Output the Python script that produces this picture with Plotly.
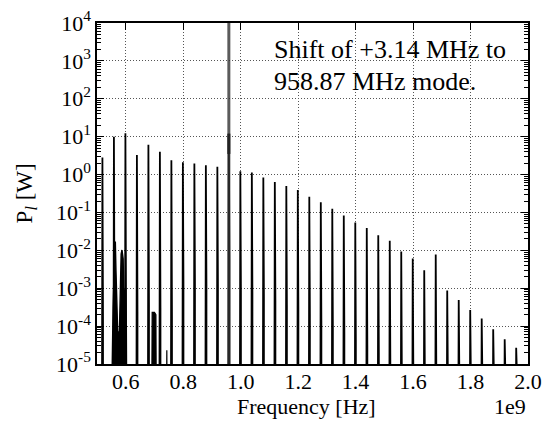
import plotly.graph_objects as go

# ---------------- data ----------------
# main resonance peaks: frequency [MHz], peak power [W], power at which the peak base widens [W]
peak_freq_mhz = [518.87, 558.87, 598.87, 638.87, 678.87, 718.87, 758.87, 798.87, 838.87,
                 878.87, 918.87, 958.87, 998.87, 1038.87, 1078.87, 1118.87, 1158.87,
                 1198.87, 1238.87, 1278.87, 1318.87, 1358.87, 1398.87, 1438.87, 1478.87,
                 1518.87, 1558.87, 1598.87, 1638.87, 1678.87, 1718.87, 1758.87, 1798.87,
                 1838.87, 1878.87, 1918.87, 1958.87]
peak_power_w = [2.8, 10.0, 12.3, 3.3, 6.1, 4.0, 2.4, 2.1, 1.95,
                1.77, 1.6, 12.0, 1.23, 1.13, 0.83, 0.64, 0.50,
                0.39, 0.26, 0.186, 0.126, 0.083, 0.054, 0.039, 0.025,
                0.0178, 0.0093, 0.0061, 0.0030, 0.0078, 0.00087, 0.00049, 0.000266,
                0.000158, 0.000083, 0.000045, 0.000027]
skirt_power_w = [1.6e-4, 3.0e-4, 1.0e-3, 2.4e-4, 3.8e-4, 3.0e-4, 1.8e-4, 1.5e-3, 1.35e-3,
                 1.26e-3, 1.1e-3, 5.9e-3, 8.7e-4, 7.9e-4, 6.0e-4, 4.6e-4, 3.5e-4,
                 2.7e-4, 1.95e-4, 1.38e-4, 9.3e-5, 6.2e-5, 4.3e-5, 3.0e-5, 2.0e-5,
                 1.4e-5, 8e-6, 8e-6, 8e-6, 8e-6, 8e-6, 8e-6, 8e-6,
                 8e-6, 8e-6, 8e-6, 8e-6]

# secondary (non-mode) spectral content
sideband_freq_mhz = [549, 552, 556, 560, 563.8, 566, 569, 572, 578, 581, 584, 587, 591, 593,
                     600, 602, 604]
sideband_power_w = [1e-7, 2e-5, 3e-4, 4e-3, 0.017, 3e-3, 3e-4, 7e-5, 7e-5, 6e-4, 8e-3,
                    0.0102, 6e-3, 9e-4, 9e-4, 1e-4, 1e-7]
bump_freq_mhz = [690, 692, 700, 705, 707, 741.5, 743, 744.5]
bump_power_w = [1e-7, 2.3e-4, 2.3e-4, 2.0e-4, 1e-7, 1e-7, 2.3e-5, 1e-7]

# shifted mode marker
mode_freq_mhz = 958.87
mode_dark_range_w = [3.5, 12.0]

x_tick_vals = [0.6e9, 0.8e9, 1.0e9, 1.2e9, 1.4e9, 1.6e9, 1.8e9, 2.0e9]
x_tick_text = ["0.6", "0.8", "1.0", "1.2", "1.4", "1.6", "1.8", "2.0"]
y_tick_exps = [-5, -4, -3, -2, -1, 0, 1, 2, 3, 4]
x_range_hz = [0.5e9, 2.0e9]
y_range_exp = [-5, 4]

# ---------------- build spectrum outline ----------------
FLOOR = 1e-8      # below the visible range
HALF_BASE = 2.0   # MHz, half width of the peak base
spec_x, spec_y = [], []
for f, p, s in zip(peak_freq_mhz, peak_power_w, skirt_power_w):
    spec_x += [f - HALF_BASE, f - HALF_BASE, f, f + HALF_BASE, f + HALF_BASE]
    spec_y += [FLOOR, s, p, s, FLOOR]
spec_x = [v * 1e6 for v in spec_x]

FONT = "Liberation Serif"

fig = go.Figure()
fig.add_trace(go.Scatter(x=spec_x, y=spec_y, mode="lines", fill="toself",
                         fillcolor="black", line=dict(color="black", width=1.8),
                         hoverinfo="skip", showlegend=False))
fig.add_trace(go.Scatter(x=[v * 1e6 for v in sideband_freq_mhz], y=sideband_power_w,
                         mode="lines", fill="toself", fillcolor="black",
                         line=dict(color="black", width=1.4), showlegend=False))
fig.add_trace(go.Scatter(x=[v * 1e6 for v in bump_freq_mhz], y=bump_power_w,
                         mode="lines", fill="toself", fillcolor="black",
                         line=dict(color="black", width=1.2), showlegend=False))
fig.add_trace(go.Scatter(x=[mode_freq_mhz * 1e6] * 2,
                         y=[10 ** y_range_exp[0], 10 ** y_range_exp[1]],
                         mode="lines", line=dict(color="rgba(50,50,50,0.8)", width=3),
                         showlegend=False))
fig.add_trace(go.Scatter(x=[mode_freq_mhz * 1e6] * 2, y=mode_dark_range_w,
                         mode="lines", line=dict(color="#222222", width=3),
                         showlegend=False))

axis_common = dict(showline=True, linecolor="black", linewidth=1.5, mirror="allticks",
                   ticks="inside", ticklen=7, tickwidth=1, tickcolor="black",
                   showgrid=True, gridcolor="#555555", gridwidth=1, griddash="1px,2px",
                   zeroline=False, automargin=False,
                   tickfont=dict(family=FONT, size=22, color="black"))

fig.update_xaxes(range=list(x_range_hz), tickvals=x_tick_vals, ticktext=x_tick_text,
                 ticklabelstandoff=-3, **axis_common)
fig.update_yaxes(type="log", range=y_range_exp,
                 tickvals=[10 ** e for e in y_tick_exps],
                 ticktext=[f"10<sup>{e}</sup>" for e in y_tick_exps],
                 minor=dict(ticks="inside", ticklen=4, tickcolor="black", dtick="D1",
                            showgrid=False),
                 **axis_common)

fig.add_annotation(text="Shift of +3.14 MHz to", xref="paper", yref="paper",
                   x=0.406, y=0.921, xanchor="left", yanchor="middle", showarrow=False,
                   font=dict(family=FONT, size=26, color="black"))
fig.add_annotation(text="958.87 MHz mode.", xref="paper", yref="paper",
                   x=0.406, y=0.828, xanchor="left", yanchor="middle", showarrow=False,
                   font=dict(family=FONT, size=26, color="black"))
fig.add_annotation(text="Frequency [Hz]", xref="paper", yref="paper",
                   x=0.487, y=-0.125, xanchor="center", yanchor="middle", showarrow=False,
                   font=dict(family=FONT, size=22, color="black"))
fig.add_annotation(text="1e9", xref="paper", yref="paper",
                   x=1.0, y=-0.125, xanchor="right", yanchor="middle", showarrow=False,
                   font=dict(family=FONT, size=22, color="black"))
fig.add_annotation(text="P<sub><i>l</i></sub> [W]", xref="paper", yref="paper",
                   x=-0.165, y=0.5, xanchor="center", yanchor="middle", textangle=-90,
                   showarrow=False, font=dict(family=FONT, size=23, color="black"))

fig.update_layout(width=544, height=423, margin=dict(l=97, r=16, t=23, b=59),
                  paper_bgcolor="white", plot_bgcolor="white", showlegend=False,
                  font=dict(family=FONT))

fig.write_html("out.html", config={"displayModeBar": False},
               post_script="document.body.style.margin='0px';"
                           "document.body.style.overflow='hidden';")
